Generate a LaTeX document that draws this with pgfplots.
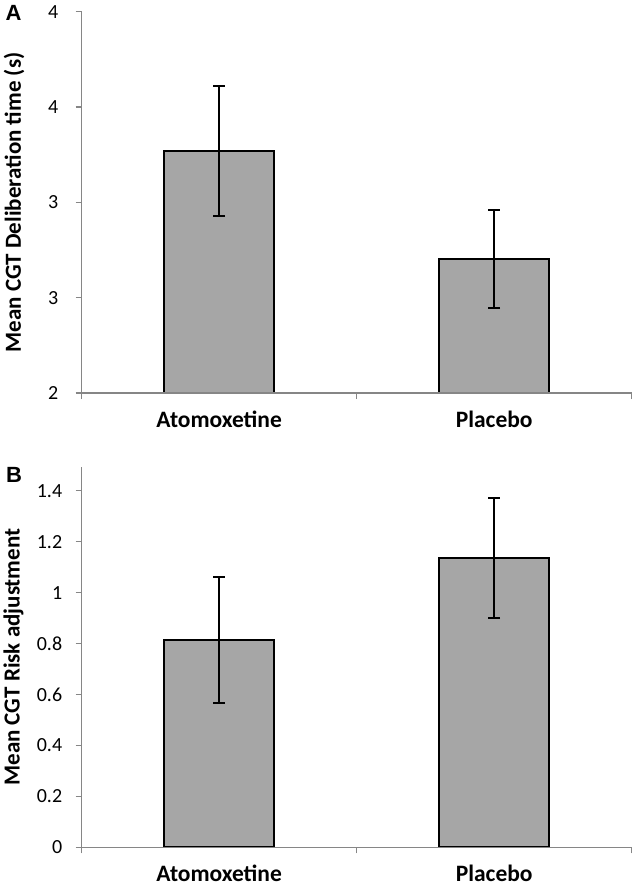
\documentclass[border=0pt]{standalone}
\usepackage{pgfplots}
\pgfplotsset{compat=1.18}
\usepackage{fontspec}
\setmainfont{Carlito}
\newfontfamily\arialfont{Liberation Sans}
\definecolor{barfill}{HTML}{A6A6A6}
\definecolor{axisgray}{HTML}{868686}
\pgfplotsset{
  mybar/.style={
    scale only axis, width=550pt,
    xmin=-0.5, xmax=1.5,
    axis x line*=bottom, axis y line*=left,
    axis line style={axisgray, line width=1.2pt, -},
    axis on top,
    xtick={-0.5,0.5,1.5}, xticklabels={},
    extra x ticks={0,1}, extra x tick labels={Atomoxetine,Placebo},
    extra x tick style={major tick length=0pt, xticklabel style={yshift=-14pt}},
    tick align=outside, major tick length=6pt,
    tick style={axisgray, line width=1.2pt},
    xticklabel style={font=\fontsize{23.5pt}{28pt}\bfseries\selectfont},
    yticklabel style={font=\fontsize{20pt}{24pt}\selectfont},
    /pgf/number format/assume math mode=true,
    ybar, bar width=110pt,
  },
  barstyle/.style={fill=barfill, draw=black, line width=2pt,
    error bars/.cd, y dir=both, y explicit,
    error bar style={line width=2pt, black},
    error mark options={rotate=90, mark size=6pt, line width=2pt, black}},
}
\begin{document}
\begin{tikzpicture}
\path[use as bounding box] (0,0) rectangle (633pt,-892pt);
\begin{axis}[mybar, anchor=south west, at={(81.7pt,-393pt)}, height=381.3pt,
  ymin=2, ymax=4, ytick={2,2.5,3,3.5,4}, yticklabels={2,3,3,4,4},
  yticklabel style={xshift=-14pt},
  ylabel={Mean CGT Deliberation time (s)},
  every axis y label/.style={at={(axis description cs:-0.123,0.5)}, rotate=90, anchor=center,
    font=\fontsize{23pt}{28pt}\bfseries\selectfont}]
\addplot[barstyle] coordinates {
  (0,3.268) +- (0,0.340)
  (1,2.702) +- (0,0.258)
};
\end{axis}
\begin{axis}[mybar, anchor=south west, at={(81.7pt,-847.3pt)}, height=380.3pt,
  ymin=0, ymax=1.493, ytick={0,0.2,0.4,0.6,0.8,1,1.2,1.4},
  yticklabels={0,0.2,0.4,0.6,0.8,1,1.2,1.4},
  yticklabel style={xshift=-10pt},
  ylabel={Mean CGT Risk adjustment},
  every axis y label/.style={at={(axis description cs:-0.124,0.5)}, rotate=90, anchor=center,
    font=\fontsize{23pt}{28pt}\bfseries\selectfont}]
\addplot[barstyle] coordinates {
  (0,0.813) +- (0,0.248)
  (1,1.135) +- (0,0.235)
};
\end{axis}
\node[anchor=north west, inner sep=0pt, font=\arialfont\fontsize{22pt}{24pt}\bfseries\selectfont] at (5.5pt,-5pt) {A};
\node[anchor=north west, inner sep=0pt, font=\arialfont\fontsize{22pt}{24pt}\bfseries\selectfont] at (6pt,-467pt) {B};
\end{tikzpicture}
\end{document}
